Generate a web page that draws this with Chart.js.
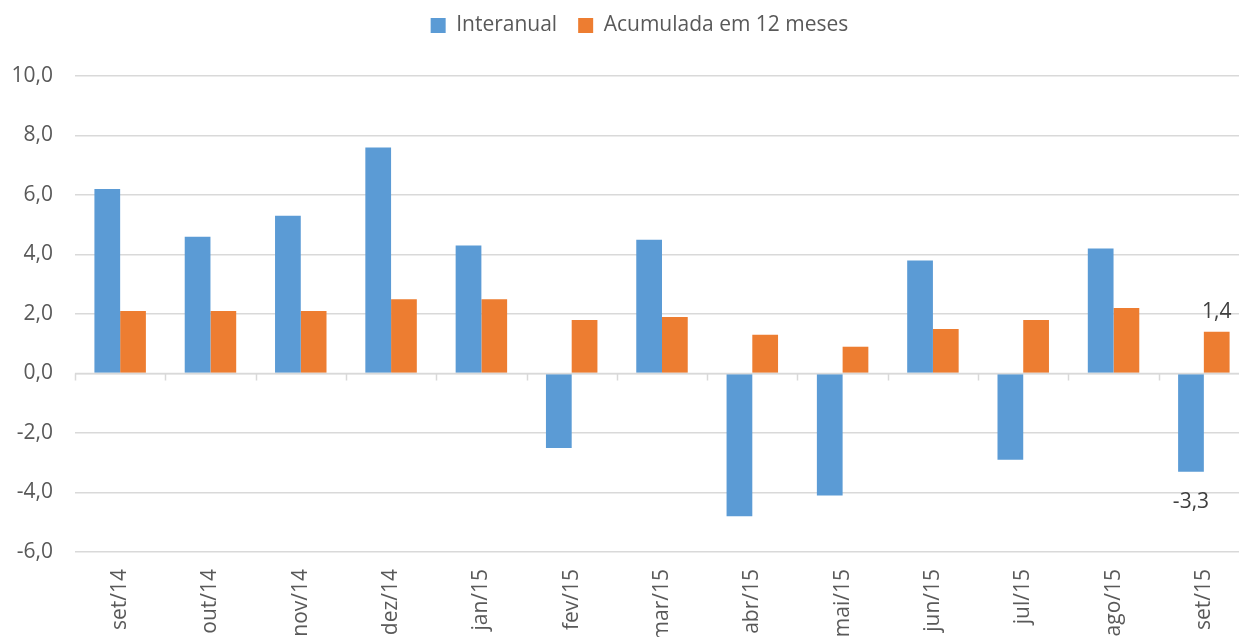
<!DOCTYPE html>
<html>
<head>
<meta charset="utf-8">
<script src="https://cdn.jsdelivr.net/npm/chart.js@4.4.1/dist/chart.umd.min.js"></script>
<style>
    html, body { margin: 0; padding: 0; background: #fff; overflow: hidden; }
    #wrap { position: relative; width: 1249px; height: 637px; }
</style>
</head>
<body>
<div id="wrap"><canvas id="chart"></canvas></div>
<script>
// 数据
const categories = ['set/14', 'out/14', 'nov/14', 'dez/14', 'jan/15', 'fev/15', 'mar/15',
    'abr/15', 'mai/15', 'jun/15', 'jul/15', 'ago/15', 'set/15'];
const interanual = [6.2, 4.6, 5.3, 7.6, 4.3, -2.5, 4.5, -4.8, -4.1, 3.8, -2.9, 4.2, -3.3];
const acumulada = [2.1, 2.1, 2.1, 2.5, 2.5, 1.8, 1.9, 1.3, 0.9, 1.5, 1.8, 2.2, 1.4];
const yTicks = [-6, -4, -2, 0, 2, 4, 6, 8, 10];

const fontFamily = '"Open Sans", "Noto Sans", sans-serif';
const axisColor = '#595959';
const gridColor = '#d9d9d9';

function fmt(v) {
    return v.toFixed(1).replace('.', ',');
}

// 图例高度与位置
const legendPlacement = {
    id: 'legendPlacement',
    beforeInit(chart) {
        const origFit = chart.legend.fit;
        chart.legend.fit = function () {
            origFit.bind(chart.legend)();
            this.height = 76;
        };
    },
    afterLayout(chart) {
        const lg = chart.legend;
        lg.top -= 6;
        lg.left += 15;
        lg.right += 15;
    }
};

// 零线上的分类刻度
const zeroTicks = {
    id: 'zeroTicks',
    afterDatasetsDraw(chart) {
        const x = chart.scales.x;
        const y0 = chart.scales.y.getPixelForValue(0);
        const step = (x.right - x.left) / categories.length;
        const ctx = chart.ctx;
        ctx.save();
        ctx.strokeStyle = gridColor;
        ctx.lineWidth = 1.5;
        ctx.beginPath();
        ctx.moveTo(x.left, y0);
        ctx.lineTo(x.right, y0);
        for (let i = 0; i <= categories.length; i++) {
            const px = Math.round(x.left + i * step) + 0.5;
            ctx.moveTo(px, y0);
            ctx.lineTo(px, y0 + 7);
        }
        ctx.stroke();
        ctx.restore();
    }
};

// 最后一个月的数据标签
const lastLabels = {
    id: 'lastLabels',
    afterDatasetsDraw(chart) {
        const ctx = chart.ctx;
        const last = categories.length - 1;
        ctx.save();
        ctx.font = '21px ' + fontFamily;
        ctx.fillStyle = '#404040';
        ctx.textAlign = 'center';
        ctx.textBaseline = 'alphabetic';
        chart.data.datasets.forEach((ds, di) => {
            const bar = chart.getDatasetMeta(di).data[last];
            const v = ds.data[last];
            if (v >= 0) {
                ctx.fillText(fmt(v), bar.x, bar.y - 14);
            } else {
                ctx.fillText(fmt(v), bar.x, bar.y + 36);
            }
        });
        ctx.restore();
    }
};

new Chart(document.getElementById('chart').getContext('2d'), {
    type: 'bar',
    data: {
        labels: categories,
        datasets: [{
            label: 'Interanual',
            data: interanual,
            backgroundColor: '#5B9BD5',
            borderWidth: 0,
            barPercentage: 1,
            categoryPercentage: 0.57
        }, {
            label: 'Acumulada em 12 meses',
            data: acumulada,
            backgroundColor: '#ED7D31',
            borderWidth: 0,
            barPercentage: 1,
            categoryPercentage: 0.57
        }]
    },
    options: {
        responsive: true,
        maintainAspectRatio: false,
        animation: false,
        layout: { padding: { top: 0, left: 0, right: 0, bottom: 0 } },
        plugins: {
            legend: {
                position: 'top',
                labels: {
                    boxWidth: 15,
                    boxHeight: 15,
                    padding: 21,
                    color: axisColor,
                    font: { family: fontFamily, size: 21 }
                }
            },
            tooltip: { enabled: false }
        },
        scales: {
            x: {
                grid: { display: false, drawTicks: false },
                border: { display: false },
                ticks: {
                    color: axisColor,
                    font: { family: fontFamily, size: 21 },
                    minRotation: 90,
                    maxRotation: 90,
                    padding: 17,
                    autoSkip: false
                },
                afterFit(scale) { scale.height = 85; }
            },
            y: {
                min: -6,
                max: 10,
                grid: { color: gridColor, lineWidth: 1.5, drawTicks: false },
                border: { display: false },
                afterBuildTicks(scale) {
                    scale.ticks = yTicks.map(v => ({ value: v }));
                },
                ticks: {
                    color: axisColor,
                    font: { family: fontFamily, size: 21 },
                    padding: 22,
                    callback: v => fmt(v)
                },
                afterFit(scale) { scale.width = 75; }
            }
        }
    },
    plugins: [legendPlacement, zeroTicks, lastLabels]
});
</script>
</body>
</html>
